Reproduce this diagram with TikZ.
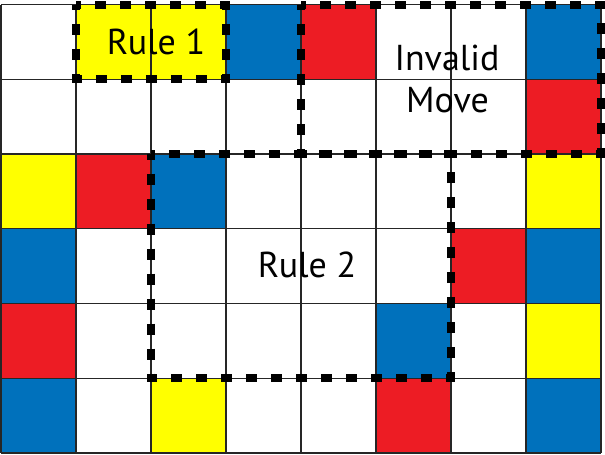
\documentclass[tikz,border=0pt]{standalone}
\usepackage{fontspec}
\setmainfont{PT Sans}
\definecolor{cy}{HTML}{FFFF00}
\definecolor{cb}{HTML}{0071BC}
\definecolor{cr}{HTML}{ED1C24}
\begin{document}
\begin{tikzpicture}[x=1pt,y=-1pt,
  cell/.style={draw=black!85,line width=1.2pt,line cap=square},
  rulebox/.style={draw=black,line width=8pt,dash pattern=on 11pt off 14pt,dash phase=5.5pt},
  lbl/.style={font=\fontsize{36}{42}\selectfont,inner sep=0pt,anchor=base}]
\useasboundingbox (0,0) rectangle (605,455);
\fill[white] (0,0) rectangle (605,455);
\foreach \r/\c/\col in {0/1/cy,0/2/cy,0/3/cb,0/4/cr,0/7/cb,
  1/7/cr,
  2/0/cy,2/1/cr,2/2/cb,2/7/cy,
  3/0/cb,3/6/cr,3/7/cb,
  4/0/cr,4/5/cb,4/7/cy,
  5/0/cb,5/2/cy,5/5/cr,5/7/cb}
  {\fill[\col] ({1+\c*75},{4.5+\r*74.75}) rectangle ++(75,74.75);}
\foreach \i in {0,...,8} \draw[cell] ({1+\i*75},4.5) -- ({1+\i*75},453);
\foreach \j in {0,...,6} \draw[cell] (1,{4.5+\j*74.75}) -- (601,{4.5+\j*74.75});
\draw[rulebox] (76,4.5) rectangle (226,79.25);
\draw[rulebox] (301,4.5) rectangle (601,154);
\draw[rulebox] (151,154) rectangle (451,378.25);
\node[lbl] (rule1) at (156,54) {Rule 1};
\node[lbl] (invalid) at (447,70) {Invalid};
\node[lbl] (move) at (447.5,112) {Move};
\node[lbl] (rule2) at (307,277) {Rule 2};
\end{tikzpicture}
\end{document}
